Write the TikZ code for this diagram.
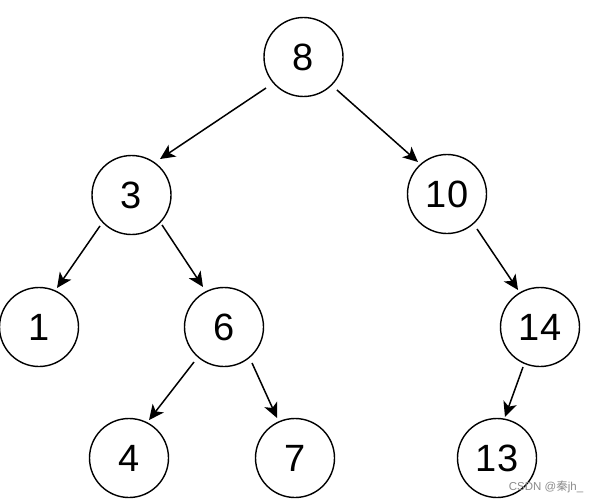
\documentclass[tikz,border=0pt]{standalone}
\usepackage{fontspec}
\setmainfont{Liberation Sans}
\newfontfamily\cjk{Noto Sans CJK SC}
\usetikzlibrary{arrows.meta,calc}
\definecolor{wm}{RGB}{140,140,140}
\tikzset{
  tn/.style={circle,draw=black,line width=1.4pt,minimum size=79pt,inner sep=0pt,outer sep=0pt,
    font=\fontsize{38}{40}\selectfont},
  arr/.style={draw=black,line width=1.5pt,-{Stealth[length=15pt,width=14pt,inset=4pt]}}
}
\begin{document}
\begin{tikzpicture}[x=1pt,y=1pt]
\useasboundingbox (0,0) rectangle (596,-503);
\node[tn] (n8) at (303.5,-57) {8};
\node[tn] (n3) at (131.5,-195) {3};
\node[tn] (n10) at (447,-194) {10};
\node[tn] (n1) at (39,-327) {1};
\node[tn] (n6) at (224,-327) {6};
\node[tn] (n14) at (540,-327) {14};
\node[tn] (n4) at (129,-458) {4};
\node[tn] (n7) at (295,-458) {7};
\node[tn] (n13) at (497,-458) {13};
\draw[arr] ($(n8)+(219.6:48.7pt)$) -- ($(n3)+(51.6:45.9pt)$);
\draw[arr] ($(n8)+(315.4:47pt)$) -- ($(n10)+(132.2:43.2pt)$);
\draw[arr] ($(n3)+(224.5:44.2pt)$) -- ($(n1)+(65.2:43pt)$);
\draw[arr] ($(n3)+(315.5:42.8pt)$) -- ($(n6)+(117.7:45.2pt)$);
\draw[arr] ($(n6)+(229.4:46.1pt)$) -- ($(n4)+(62.2:42.9pt)$);
\draw[arr] ($(n6)+(307.9:45.6pt)$) -- ($(n7)+(114.2:43.9pt)$);
\draw[arr] ($(n10)+(310.6:46.1pt)$) -- ($(n14)+(120.7:43pt)$);
\draw[arr] ($(n14)+(247:43.5pt)$) -- ($(n13)+(79:41.8pt)$);
\node[text=wm,font=\fontsize{11.5}{12}\selectfont,inner sep=0pt] (wmk) at (546,-487) {CSDN @{\cjk 秦}jh\_};
\end{tikzpicture}
\end{document}
